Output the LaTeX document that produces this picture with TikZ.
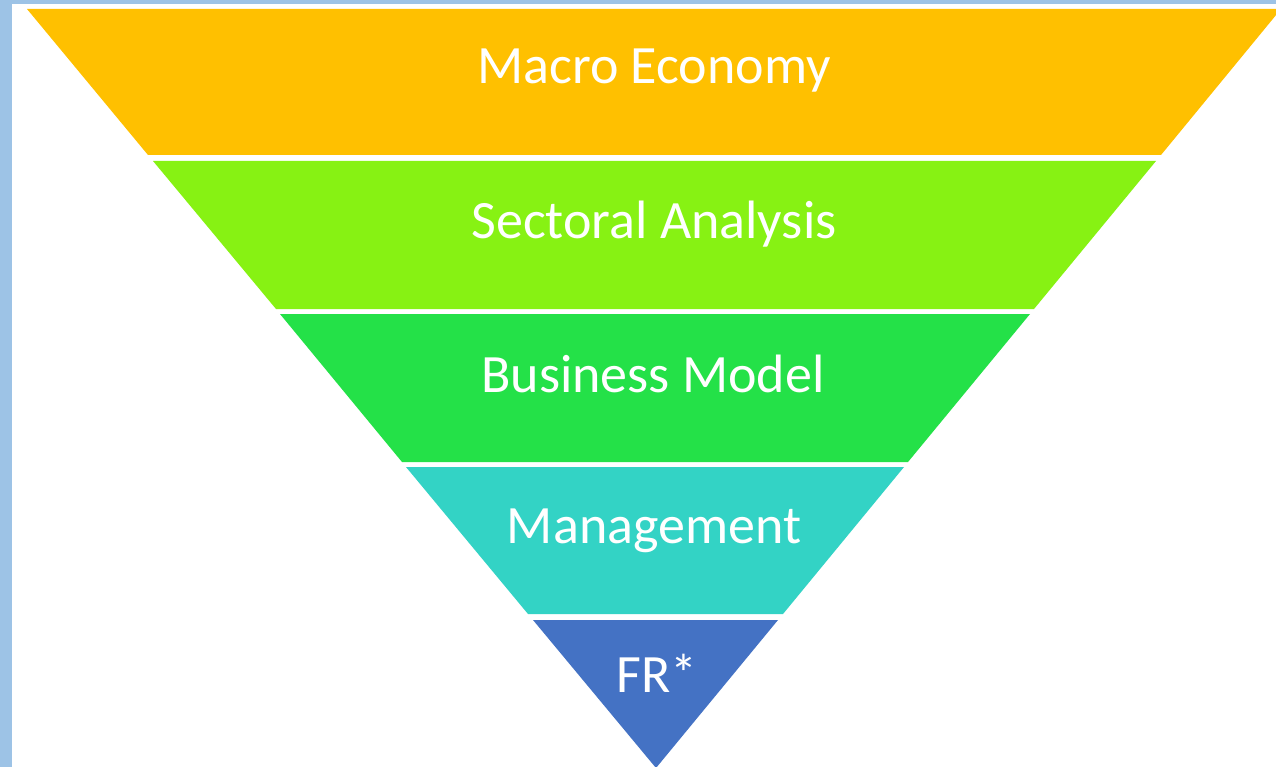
\documentclass[tikz,border=0pt]{standalone}
\usepackage{fontspec}
\setmainfont{Carlito}
\definecolor{frame}{HTML}{9DC3E6}
\definecolor{macro}{HTML}{FFC000}
\definecolor{sector}{HTML}{87F213}
\definecolor{business}{HTML}{24E148}
\definecolor{manage}{HTML}{33D3C5}
\definecolor{fr}{HTML}{4472C4}
\begin{document}
\begin{tikzpicture} [
	x=1pt, y=-1pt,
	band/.style = {draw=none},
	bandtext/.style = {anchor=base, inner sep=0pt, text=white, font=\fontsize{54}{64}\selectfont},
]
% frame
\fill [frame] (0,0) rectangle (1276,767);
\fill [white] (12,4) rectangle (1276,767);
\useasboundingbox (0,0) rectangle (1276,767);

% bands of the funnel
\fill [band, macro] (27,9) -- (1281,9) -- (1161,155) -- (148,155) -- cycle;
\fill [band, sector] (153,161) -- (1156,161) -- (1034,309) -- (276,309) -- cycle;
\fill [band, business] (280,314) -- (1030,314) -- (908,462) -- (402,462) -- cycle;
\fill [band, manage] (406,467) -- (904,467) -- (783,614) -- (528,614) -- cycle;
\fill [band, fr] (533,620) -- (778,620) -- (656,768) -- cycle;

\node [bandtext] (macro) at (654,84) {Macro Economy};
\node [bandtext] (sector) at (654,239) {Sectoral Analysis};
\node [bandtext] (business) at (653,392) {Business Model};
\node [bandtext] (manage) at (654,543) {Management};
\node [bandtext] (fr) at (657,692) {FR*};
\end{tikzpicture}
\end{document}
